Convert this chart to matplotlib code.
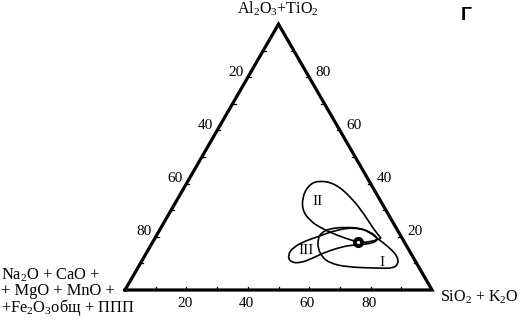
import numpy as np
import matplotlib
matplotlib.use("Agg")
import matplotlib.pyplot as plt
from matplotlib.path import Path
from matplotlib.patches import PathPatch

plt.rcParams['mathtext.fontset'] = 'custom'
plt.rcParams['mathtext.rm'] = 'Liberation Serif'
plt.rcParams['mathtext.it'] = 'Liberation Serif:italic'
SERIF = ['Liberation Serif', 'DejaVu Serif']

# ---- data (ternary %: SiO2+K2O, Al2O3+TiO2) ----
tick_values = [20, 40, 60, 80]
field_I_si = [52.9, 55.2, 60.5, 65.0, 68.1, 73.7, 78.5, 82.7, 84.1, 83.2, 79.0, 68.0, 61.7, 58.0, 55.0, 53.5]
field_I_al = [21.3, 23.2, 23.6, 23.2, 22.1, 18.7, 15.7, 12.4, 9.7, 8.2, 8.2, 8.6, 10.1, 12.4, 15.7, 18.7]
field_II_si = [42.3, 48.4, 56.7, 64.1, 69.2, 73.6, 73.6, 70.8, 66.9, 61.9, 55.9, 50.9, 48.2, 43.4, 40.4, 40.0]
field_II_al = [41.2, 40.1, 34.5, 28.1, 23.2, 19.5, 19.5, 18.0, 18.0, 19.5, 21.7, 24.0, 25.5, 29.2, 34.5, 39.3]
field_III_si = [46.5, 46.7, 49.9, 52.6, 57.2, 63.1, 69.6, 73.4, 70.6, 64.9, 61.2, 57.6, 55.2, 52.0, 48.5]
field_III_al = [13.1, 16.1, 18.7, 19.9, 22.5, 23.6, 21.7, 18.7, 17.2, 16.9, 15.7, 13.9, 12.0, 10.1, 10.5]
point_si, point_al = [66.9], [18.0]
field_labels = ['I', 'II', 'III']
label_si = [78.5, 45.9, 51.5]
label_al = [10.5, 33.3, 15.0]

H = np.sqrt(3) / 2


def tern(si, al):
    si = np.asarray(si, float)
    al = np.asarray(al, float)
    return si + al / 2, al * H


fig = plt.figure(figsize=(5.2, 3.25), dpi=100)
ax = fig.add_axes([0, 0, 1, 1])
ax.set_xlim(-40.72, 128.66)
ax.set_ylim(-11.40, 94.46)
ax.axis('off')

# triangle
tx, ty = tern([0, 100, 0, 0], [0, 0, 100, 0])
ax.plot(tx, ty, color='black', lw=2.3, solid_joinstyle='miter', zorder=3)

# ticks every 10 %
for v in range(10, 100, 10):
    x0, y0 = tern(v, 0)
    ax.plot([x0, x0], [y0, y0 + 1.0], color='black', lw=0.9)
    x1, y1 = tern(0, v)
    ax.plot([x1, x1 + 1.0], [y1, y1], color='black', lw=0.9)
    x2, y2 = tern(100 - v, v)
    ax.plot([x2, x2 - 1.0], [y2, y2], color='black', lw=0.9)

# tick labels
for v in tick_values:
    x0, y0 = tern(v, 0)
    ax.text(x0 - 0.6, y0 - 4.3, str(v), ha='center', va='center', fontsize=11, family=SERIF)
    x1, y1 = tern(0, 100 - v)
    ax.text(x1 - 1.3, y1 + 1.6, str(v), ha='right', va='center', fontsize=11, family=SERIF)
    x2, y2 = tern(100 - v, v)
    ax.text(x2 + 2.0, y2 + 1.6, str(v), ha='left', va='center', fontsize=11, family=SERIF)


def smooth_closed(xs, ys):
    pts = np.column_stack([xs, ys])
    n = len(pts)
    mids = (pts + np.roll(pts, -1, axis=0)) / 2
    verts = [mids[-1]]
    codes = [Path.MOVETO]
    for i in range(n):
        verts += [pts[i], mids[i]]
        codes += [Path.CURVE3, Path.CURVE3]
    return Path(verts, codes)


for si, al in [(field_I_si, field_I_al), (field_II_si, field_II_al), (field_III_si, field_III_al)]:
    x, y = tern(si, al)
    ax.add_patch(PathPatch(smooth_closed(x, y), facecolor='none', edgecolor='black', lw=1.2))

px, py = tern(point_si, point_al)
ax.plot(px, py, 'o', color='black', ms=7, zorder=4)
ax.plot(px, py, 'o', color='white', ms=1.3, zorder=5)

for lab, si, al in zip(field_labels, label_si, label_al):
    x, y = tern(si, al)
    ax.text(x, y, lab, ha='center', va='center', fontsize=11, family=SERIF)

# axis titles
ax.text(49.8, 91.6, r'Al$_2$O$_3$+TiO$_2$', ha='center', va='center', fontsize=11.5, family=SERIF)
ax.text(102.6, -2.3, r'SiO$_2$ + K$_2$O', ha='left', va='center', fontsize=11.5, family=SERIF)
ax.text(-40.5, 4.9, r'Na$_2$O + CaO +', ha='left', va='center', fontsize=11.8, family=SERIF)
ax.text(-40.5, -0.2, r'+ MgO + MnO +', ha='left', va='center', fontsize=11.8, family=SERIF)
ax.text(-40.5, -5.8, r'+Fe$_2$O$_3$общ + ППП', ha='left', va='center', fontsize=11.8, family=SERIF)

ax.text(111.3, 89.5, 'Г', ha='center', va='center', fontsize=14, fontweight='bold',
        family=['Liberation Sans', 'DejaVu Sans'])

fig.savefig('out.png', dpi=100)
